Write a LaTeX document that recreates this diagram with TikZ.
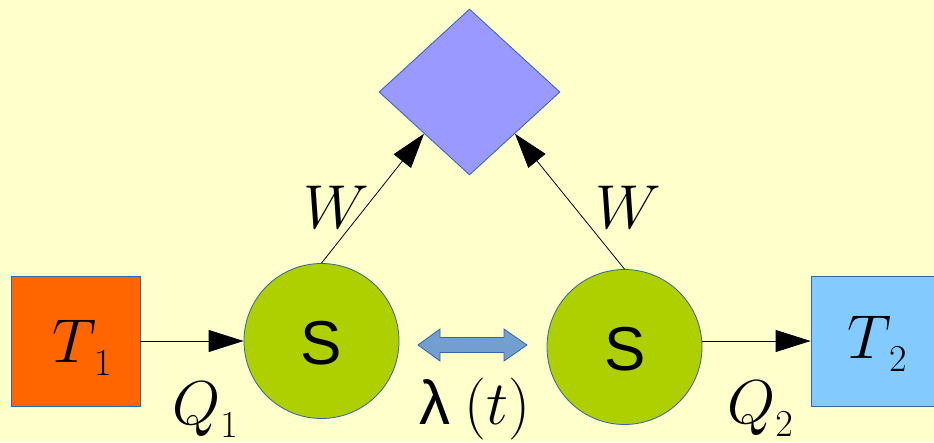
\RequirePackage{fix-cm}
\documentclass[tikz,border=0pt]{standalone}
\usepackage{fontspec}
\usetikzlibrary{arrows.meta,shapes.geometric}
\newfontfamily\libsans{Liberation Sans}
\DeclareMathSizes{62}{62}{38}{30}
\definecolor{bg}{HTML}{FFFFCC}
\definecolor{edge}{HTML}{3465A4}
\definecolor{hot}{HTML}{FF6600}
\definecolor{cold}{HTML}{83CAFF}
\definecolor{ballgreen}{HTML}{AECF00}
\definecolor{work}{HTML}{9999FF}
\definecolor{link}{HTML}{729FCF}
\newcommand{\lowsub}[1]{\lower4pt\hbox{$\scriptstyle #1$}}
\tikzset{
  box/.style={draw=edge, line width=0.8pt, minimum width=129pt, minimum height=130pt, inner sep=0pt},
  ball/.style={circle, draw=edge, fill=ballgreen, minimum size=155pt, inner sep=0pt, line width=0.8pt},
  lbl/.style={inner sep=0pt, anchor=base west, font=\fontsize{62}{62}\selectfont},
  sym/.style={inner sep=0pt, anchor=base, font=\fontsize{62}{62}\selectfont\libsans},
  conn/.style={-{Triangle[length=35pt,width=22pt]}, line width=0.8pt, black},
}
\begin{document}
\begin{tikzpicture}[x=1pt,y=-1pt]
\fill[bg] (0,0) rectangle (934,442);
\useasboundingbox (0,0) rectangle (934,442);
\clip (0,0) rectangle (934,442);
% boxes
\node[box, fill=hot] (T1) at (75.5,341) {};
\node[box, fill=cold] (T2) at (875.5,341) {};
% circles
\node[ball] (C1) at (321.5,341) {};
\node[ball] (C2) at (624.5,347) {};
% diamond
\node[diamond, draw=edge, fill=work, line width=0.8pt, inner sep=0pt,
      minimum width=181pt, minimum height=166pt] (D) at (469.5,92) {};
% double arrow
\filldraw[fill=link, draw=edge, line width=0.8pt]
  (418,345) -- (440,329) -- (440,337.5) -- (504,337.5) -- (504,329) -- (527,345)
  -- (504,361) -- (504,352.5) -- (440,352.5) -- (440,361) -- cycle;
% connectors
\draw[conn] (T1) -- (C1);
\draw[conn] (T2.west -| C2.east) -- (T2.west);
\draw[conn] (C1.north) -- (D.south west);
\draw[conn] (C2.north) -- (D.south east);
% labels
\node[lbl] (lT1) at (52,362) {$T_{\,\lowsub{1}}$};
\node[lbl] (lT2) at (847,358) {$T_{\,\lowsub{2}}$};
\node[lbl] (lQ1) at (172,424) {$Q_{\lowsub{1}}$};
\node[lbl] (lQ2) at (727,423) {$Q_{\lowsub{2}}$};
\node[lbl] (lW1) at (303,228) {$W$};
\node[lbl] (lW2) at (595,228) {$W$};
\node[sym] (S1) at (321.5,364) {S};
\node[sym] (S2) at (625,370) {S};
\node[lbl] (lam) at (419,424) {{\libsans λ}\hspace{14pt}$(t)$};
\end{tikzpicture}
\end{document}
